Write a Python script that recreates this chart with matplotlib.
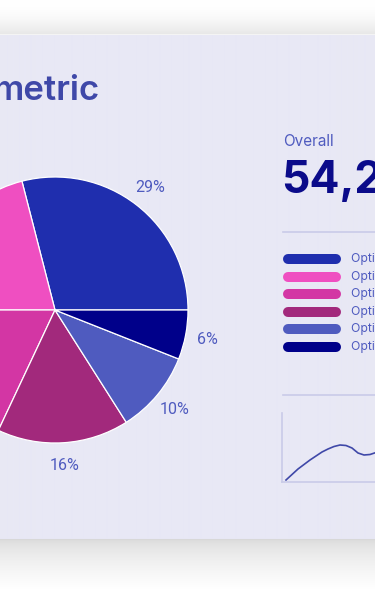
import numpy as np
import matplotlib.pyplot as plt
from matplotlib.lines import Line2D

W, H = 375, 590

# data
shares = [29, 21, 18, 16, 10, 6]
slice_colors = ['#1f2eae', '#ef4fc1', '#d336a4', '#a2297c', '#4f5bbf', '#00008a']
legend_labels = ['Option 1', 'Option 2', 'Option 3', 'Option 4', 'Option 5', 'Option 6']
title = 'metric'
overall_label = 'Overall'
overall_value = '54,2'
trend_y = [2, 7.5, 13, 17.5, 22, 26, 30, 33, 35.5, 37, 36.5, 34, 29, 27, 27.5, 29.5]

TEXT = '#4f5bbf'
FONT = ['Inter', 'DejaVu Sans']


def box(x, y, w, h):
    # pixel box (top-left origin) -> figure fraction
    return [x / W, 1 - (y + h) / H, w / W, h / H]


fig = plt.figure(figsize=(W / 100, H / 100), dpi=100)
fig.patch.set_facecolor('white')

# background: card with soft shadow above and below
bg = fig.add_axes([0, 0, 1, 1])
rows = np.ones((H, 1, 3))
card_rgb = np.array([0xe8, 0xe8, 0xf5]) / 255
for r in range(H):
    if r < 34:
        t = r / 33
        rows[r, 0] = 1 - 0.09 * t ** 2
    elif r == 34:
        rows[r, 0] = 0.96
    elif r < 539:
        rows[r, 0] = card_rgb
    else:
        t = (r - 539) / 50
        rows[r, 0] = 0.85 + 0.15 * min(1, t) ** 0.6
bg.imshow(rows, aspect='auto', extent=[0, W, H, 0], interpolation='bilinear')
bg.set_xlim(0, W)
bg.set_ylim(H, 0)
bg.axis('off')

# title
fig.text(100 / W, 1 - 100 / H, title, ha='right', va='baseline',
         fontsize=25, fontweight='semibold', color='#3f48a8', family=FONT)

# pie
ax = fig.add_axes(box(55 - 133, 310 - 133, 266, 266))
wedges, _, pcts = ax.pie(shares, colors=slice_colors, startangle=0, counterclock=True,
                         autopct='%.0f%%', pctdistance=1.17,
                         wedgeprops=dict(edgecolor='white', linewidth=0.9))
for t in pcts:
    t.set_color(TEXT)
    t.set_fontsize(11.5)
    t.set_fontfamily(['Roboto', 'DejaVu Sans'])
    # labels for slices on the left lie outside the visible card
    if t.get_position()[0] < -0.3:
        t.set_visible(False)
ax.set_xlim(-1, 1)
ax.set_ylim(-1, 1)
ax.axis('off')

# overall figure
fig.text(283 / W, 1 - 146 / H, overall_label, ha='left', va='baseline',
         fontsize=11, color=TEXT, family=FONT)
fig.text(281 / W, 1 - 193 / H, overall_value, ha='left', va='baseline',
         fontsize=32, fontweight='bold', color='#0b0b8a', family=FONT)

for y in (232, 395):
    fig.add_artist(Line2D([283 / W, 1], [1 - y / H, 1 - y / H],
                          color='#c9cbe8', linewidth=1.2))

# legend
lg = fig.add_axes(box(280, 259 - 8.8, 200, 17.6 * 6))
for i, (lab, col) in enumerate(zip(legend_labels, slice_colors)):
    lg.plot([8, 56], [i, i], color=col, linewidth=7.2, solid_capstyle='round')
    lg.text(71, i, lab, va='center', ha='left', fontsize=8.8, color=TEXT, family=FONT)
lg.set_xlim(0, 200)
lg.set_ylim(5.5, -0.5)
lg.axis('off')

# small trend chart
tr = fig.add_axes(box(282, 413, 148, 69))
tr.plot(range(len(trend_y)), trend_y, color='#3f48a8', linewidth=1.2)
tr.set_xlim(-0.667, 24)
tr.set_ylim(0, 69)
tr.set_facecolor('none')
for s in ('top', 'right'):
    tr.spines[s].set_visible(False)
for s in ('left', 'bottom'):
    tr.spines[s].set_color('#c9cbe8')
    tr.spines[s].set_linewidth(1.2)
tr.set_xticks([])
tr.set_yticks([])

fig.savefig('out.png', dpi=100)
